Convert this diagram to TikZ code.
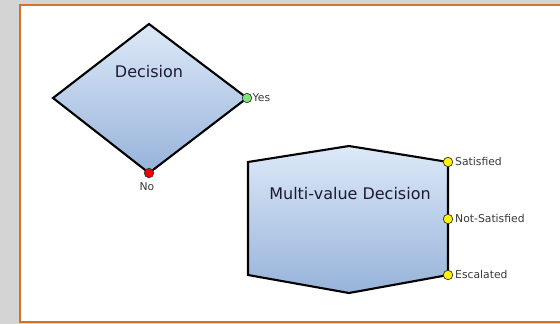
\documentclass[tikz,border=0pt]{standalone}
\usepackage{fontspec}
\setmainfont{DejaVu Sans}
\begin{document}
\begin{tikzpicture}[x=1pt,y=-1pt,
  shapefill/.style={line width=2.1pt, draw=black, line join=miter, top color=shapetop, bottom color=shapebot},
  port/.style={circle, draw=black!80, line width=0.7pt, minimum size=9.5pt, inner sep=0pt},
  portlabel/.style={anchor=west, inner sep=0pt, text=labelgray, font=\fontsize{10.8}{12}\selectfont},
  title/.style={inner sep=0pt, text=titlecol, font=\fontsize{16}{19}\selectfont}]
\definecolor{shapetop}{HTML}{DDE9F8}
\definecolor{shapebot}{HTML}{97B3DA}
\definecolor{labelgray}{HTML}{3A3A3A}
\definecolor{titlecol}{HTML}{1E1A30}
\definecolor{framecol}{HTML}{D4722A}
\definecolor{bggray}{HTML}{D4D4D4}
\useasboundingbox (0,0) rectangle (560,324);
\clip (0,0) rectangle (560,324);
\fill[bggray] (0,0) rectangle (560,324);
\draw[framecol, line width=2pt, fill=white] (19.5,4.5) rectangle (580,322);
% diamond
\coordinate (dT) at (149,24);
\coordinate (dR) at (247,98);
\coordinate (dB) at (149,173);
\coordinate (dL) at (53,98);
\path[shapefill] (dT) -- (dR) -- (dB) -- (dL) -- cycle;
\node[title] (dec) at (149,72) {Decision};
\node[port, fill=green!45!white!90!black] (yes) at (dR) {};
\node[port, fill=red!95!black] (no) at (dB) {};
\node[portlabel] (yeslbl) at (252.5,98) {Yes};
\node[portlabel, anchor=center] (nolbl) at (147,186.5) {No};
% hexagon
\coordinate (h1) at (248,162);
\coordinate (h2) at (349,146);
\coordinate (h3) at (448,162);
\coordinate (h4) at (448,275);
\coordinate (h5) at (349,293);
\coordinate (h6) at (248,275);
\path[shapefill] (h1) -- (h2) -- (h3) -- (h4) -- (h5) -- (h6) -- cycle;
\node[title] (mvd) at (350,194) {Multi-value Decision};
\node[port, fill=yellow] (sat) at (h3) {};
\node[port, fill=yellow] (nsat) at (448,219) {};
\node[port, fill=yellow] (esc) at (h4) {};
\node[portlabel] (satlbl) at (455,161) {Satisfied};
\node[portlabel] (nsatlbl) at (455,218.5) {Not-Satisfied};
\node[portlabel] (esclbl) at (455,274) {Escalated};
\end{tikzpicture}
\end{document}
